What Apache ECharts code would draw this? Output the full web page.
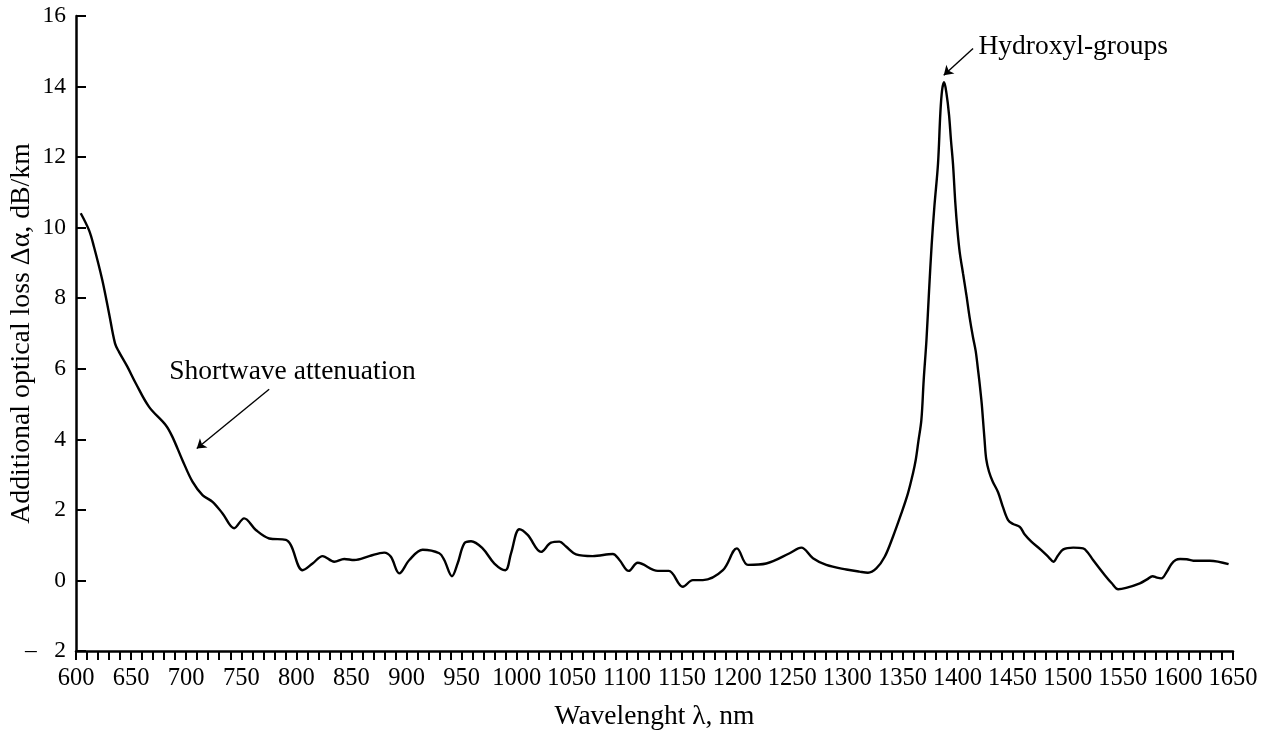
<!DOCTYPE html>
<html>
<head>
<meta charset="utf-8">
<script src="https://cdn.jsdelivr.net/npm/echarts@6/dist/echarts.min.js"></script>
<style>
html,body{margin:0;padding:0;background:#fff;}
#c{width:1264px;height:732px;}
</style>
</head>
<body>
<div id="c"></div>
<script>
// Wavelength (nm) and additional optical loss (dB/km)
const wavelength = [
  604.3, 611.8, 616.3, 623.9, 630, 635.4, 639, 646.6, 654.2, 666.3,
  681.5, 687.5, 696.6, 705.7, 714.8, 723.9, 733, 743.5, 752.6, 763.2,
  775.3, 790.5, 795, 805.6, 814.7, 823.8, 834.4, 843.4, 852.5, 866.1,
  879.7, 885.8, 893.4, 902.5, 914.6, 929.7, 934.2, 941.2, 946.3, 952.4,
  958.5, 969, 979.7, 989.6, 994.8, 1002.4, 1009.9, 1022, 1031.1, 1038.7,
  1044.7, 1053.8, 1068.9, 1087.1, 1093.2, 1101.6, 1109.8, 1128, 1138, 1150.7,
  1159.8, 1168.9, 1187.1, 1199.8, 1209.8, 1226.4, 1247.6, 1258.2, 1268.8, 1280.9,
  1299.1, 1311, 1318.7, 1326.3, 1333.9, 1341.4, 1349, 1355, 1359.6, 1362.1,
  1364.5, 1367.2, 1369.3, 1371.8, 1374.2, 1376.5, 1379, 1382.3, 1384.4, 1386,
  1387.8, 1390, 1392.3, 1394, 1395.9, 1398, 1400, 1402, 1405, 1408,
  1411, 1414, 1416.5, 1418.5, 1420, 1422, 1423, 1424.5, 1426, 1428.6,
  1432, 1436.8, 1441, 1445.9, 1450.4, 1456.5, 1461, 1467, 1476, 1483,
  1487, 1491, 1496, 1505, 1514, 1518, 1523, 1533.7, 1540, 1545.8,
  1553, 1565.5, 1572, 1577, 1581, 1585, 1590, 1594, 1598, 1602,
  1608, 1614, 1629, 1646
];
const loss = [
  10.41, 9.93, 9.46, 8.51, 7.57, 6.72, 6.48, 6.06, 5.59, 4.92,
  4.40, 4.07, 3.41, 2.80, 2.42, 2.23, 1.90, 1.48, 1.76, 1.43,
  1.19, 1.15, 1.00, 0.29, 0.48, 0.69, 0.53, 0.61, 0.58, 0.69,
  0.79, 0.67, 0.20, 0.58, 0.87, 0.77, 0.58, 0.12, 0.48, 1.05,
  1.11, 0.91, 0.48, 0.29, 0.77, 1.45, 1.29, 0.81, 1.07, 1.10,
  0.96, 0.74, 0.69, 0.75, 0.58, 0.27, 0.50, 0.27, 0.27, -0.18,
  0.01, 0.01, 0.29, 0.91, 0.44, 0.48, 0.77, 0.93, 0.63, 0.44,
  0.31, 0.25, 0.22, 0.34, 0.67, 1.24, 1.90, 2.47, 3.04, 3.42,
  3.95, 4.55, 5.68, 6.81, 8.23, 9.50, 10.60, 11.82, 13.24, 13.90,
  14.12, 13.80, 13.20, 12.50, 11.80, 10.70, 9.90, 9.30, 8.70, 8.10,
  7.45, 6.90, 6.50, 6.00, 5.60, 5.00, 4.60, 4.00, 3.45, 3.08,
  2.80, 2.50, 2.10, 1.71, 1.60, 1.52, 1.30, 1.10, 0.86, 0.65,
  0.53, 0.70, 0.88, 0.93, 0.91, 0.80, 0.58, 0.15, -0.08, -0.25,
  -0.21, -0.08, 0.03, 0.12, 0.08, 0.06, 0.25, 0.46, 0.58, 0.61,
  0.60, 0.56, 0.56, 0.46
];
// Axis settings
const xMin = 600, xMax = 1650, xTickStep = 10, xLabelStep = 50;
const yMin = -2, yMax = 16, yStep = 2;
const xTitle = 'Wavelenght \u03BB, nm';
const yTitle = 'Additional optical loss \u0394\u03B1, dB/km';
// Annotations (data space)
const noteShort = {text: 'Shortwave attenuation', at: [796.5, 5.92], from: [775.3, 5.42], to: [709.6, 3.74]};
const noteOH = {text: 'Hydroxyl-groups', at: [1505, 15.13], from: [1414.1, 15.08], to: [1387.5, 14.32]};

const FONT = "'Liberation Serif', 'DejaVu Serif', serif";
const points = wavelength.map((w, i) => [w, loss[i]]);

const chart = echarts.init(document.getElementById('c'), null, {renderer: 'canvas'});
const textLabel = (t) => ({
  show: true, formatter: t, position: 'inside',
  fontFamily: FONT, fontSize: 27.5, color: '#000'
});
chart.setOption({
  backgroundColor: '#fff',
  animation: false,
  grid: {left: 76, right: 31, top: 16, bottom: 81, containLabel: false, outerBoundsMode: 'none'},
  xAxis: {
    type: 'value', min: xMin, max: xMax, interval: xTickStep,
    name: xTitle, nameLocation: 'middle', nameGap: 52, nameMoveOverlap: false,
    nameTextStyle: {fontFamily: FONT, fontSize: 27.5, color: '#000'},
    axisLine: {show: true, onZero: false, lineStyle: {color: '#000', width: 2.5}},
    axisTick: {show: true, inside: false, length: 9, lineStyle: {color: '#000', width: 2}},
    axisLabel: {
      margin: 15, fontFamily: FONT, fontSize: 24.5, color: '#000', hideOverlap: false,
      formatter: (v) => (Math.round(v) % xLabelStep === 0 ? String(Math.round(v)) : '')
    },
    splitLine: {show: false}
  },
  yAxis: {
    type: 'value', min: yMin, max: yMax, interval: yStep,
    name: yTitle, nameLocation: 'middle', nameGap: 40, nameRotate: 90, nameMoveOverlap: false,
    nameTextStyle: {fontFamily: FONT, fontSize: 27.8, color: '#000'},
    axisLine: {show: true, onZero: false, lineStyle: {color: '#000', width: 2.5}},
    axisTick: {show: true, inside: true, length: 10, lineStyle: {color: '#000', width: 2}},
    axisLabel: {
      margin: 10, fontFamily: FONT, fontSize: 23.5, color: '#000',
      formatter: (v) => (v < 0 ? '\u2013\u2002 ' + Math.abs(v) : String(v))
    },
    splitLine: {show: false}
  },
  series: [{
    type: 'line',
    data: points,
    smooth: 0.35,
    showSymbol: false,
    symbol: 'none',
    lineStyle: {color: '#000', width: 2.4},
    silent: true,
    markLine: {
      silent: true,
      symbol: ['none', 'arrow'],
      symbolSize: 9,
      label: {show: false},
      lineStyle: {color: '#000', width: 1.4, type: 'solid'},
      emphasis: {disabled: true},
      data: [
        [{coord: noteShort.from}, {coord: noteShort.to}],
        [{coord: noteOH.from}, {coord: noteOH.to}]
      ]
    },
    markPoint: {
      silent: true,
      symbol: 'circle',
      symbolSize: 1,
      itemStyle: {color: 'rgba(0,0,0,0)'},
      data: [
        {coord: noteShort.at, label: textLabel(noteShort.text)},
        {coord: noteOH.at, label: textLabel(noteOH.text)}
      ]
    }
  }]
});
</script>
</body>
</html>
